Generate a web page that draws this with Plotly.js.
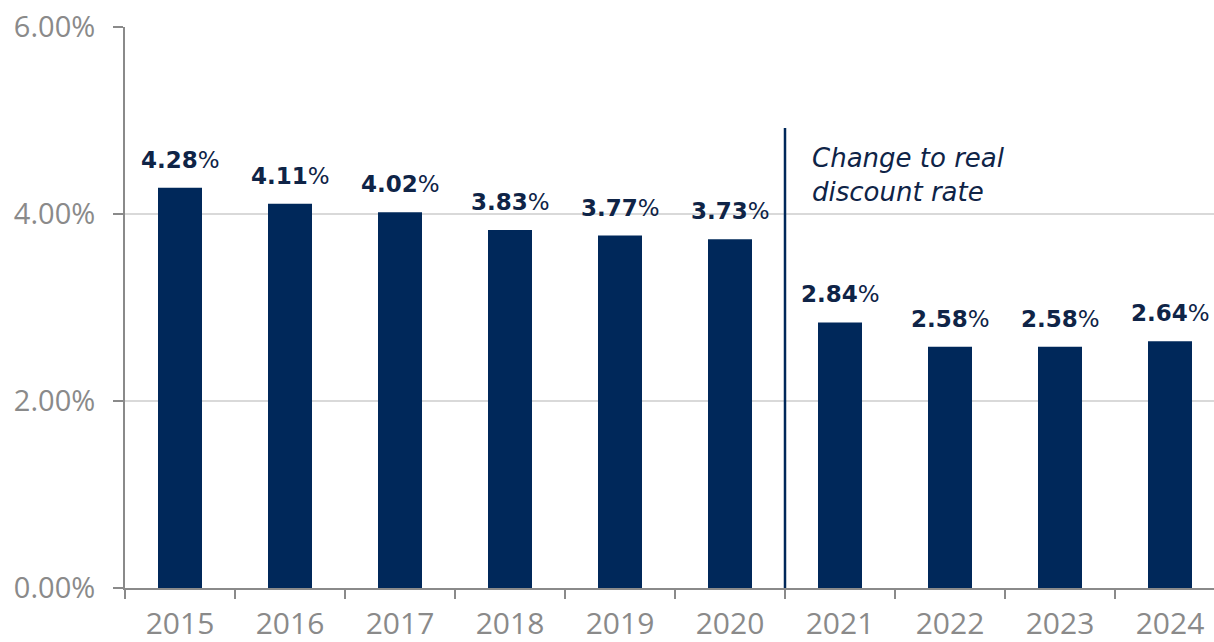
<!DOCTYPE html>
<html><head><meta charset="utf-8">
<script src="https://cdn.plot.ly/plotly-3.0.1.min.js"></script>
<style>html,body{margin:0;padding:0;background:#fff}#chart{width:1214px;height:642px}</style>
</head><body><div id="chart"></div>
<script>
const years = ["2015","2016","2017","2018","2019","2020","2021","2022","2023","2024"];
const rates = [4.28, 4.11, 4.02, 3.83, 3.77, 3.73, 2.84, 2.58, 2.58, 2.64];
const yTicks = [0, 2, 4, 6];
const yTickText = ["0.00%", "2.00%", "4.00%", "6.00%"];
const dividerX = 5.5;
const dividerTop = 4.92;
const noteText = "Change to real<br>discount rate";

const navy = "#00285a";
const gray = "#8a8a8a";

const labelAnns = years.map((yr, i) => ({
  x: i, y: rates[i], xref: "x", yref: "y",
  text: "<b>" + rates[i].toFixed(2) + "</b>%",
  showarrow: false, yanchor: "bottom", xanchor: "center", yshift: 13,
  font: {family: "DejaVu Sans, sans-serif", size: 23, color: "#0f2447"}
}));

const layout = {
  width: 1214, height: 642,
  margin: {l: 125, r: 0, t: 27, b: 54},
  paper_bgcolor: "#fff", plot_bgcolor: "#fff",
  showlegend: false,
  bargap: 0.6,
  xaxis: {
    type: "category", range: [-0.5, 9.4],
    showline: true, linecolor: gray, linewidth: 2,
    ticks: "outside", tickson: "boundaries", ticklen: 9, tickcolor: gray, tickwidth: 2,
    tickfont: {family: "Open Sans, sans-serif", size: 30, color: gray},
    ticklabelstandoff: 8,
    showgrid: false, zeroline: false, fixedrange: true
  },
  yaxis: {
    range: [0, 6], tickvals: yTicks, ticktext: yTickText,
    showline: true, linecolor: gray, linewidth: 2,
    ticks: "outside", ticklen: 10, tickcolor: gray, tickwidth: 2,
    tickfont: {family: "Open Sans, sans-serif", size: 29, color: gray},
    ticklabelstandoff: 12,
    showgrid: true, gridcolor: "#d9d9d9", gridwidth: 2, zeroline: false
  },
  shapes: [{
    type: "line", xref: "x", yref: "y",
    x0: dividerX, x1: dividerX, y0: 0, y1: dividerTop,
    line: {color: navy, width: 2.5}
  }],
  annotations: labelAnns.concat([{
    x: dividerX, y: dividerTop, xref: "x", yref: "y",
    xanchor: "left", yanchor: "top", align: "left", xshift: 25, yshift: -13,
    showarrow: false, text: "<i>" + noteText + "</i>",
    font: {family: "DejaVu Sans, sans-serif", size: 26, color: "#0f2447"}
  }])
};

Plotly.newPlot("chart", [{
  type: "bar", x: years, y: rates,
  marker: {color: navy},
  hoverinfo: "none"
}], layout, {displayModeBar: false, staticPlot: true});
</script></body></html>
